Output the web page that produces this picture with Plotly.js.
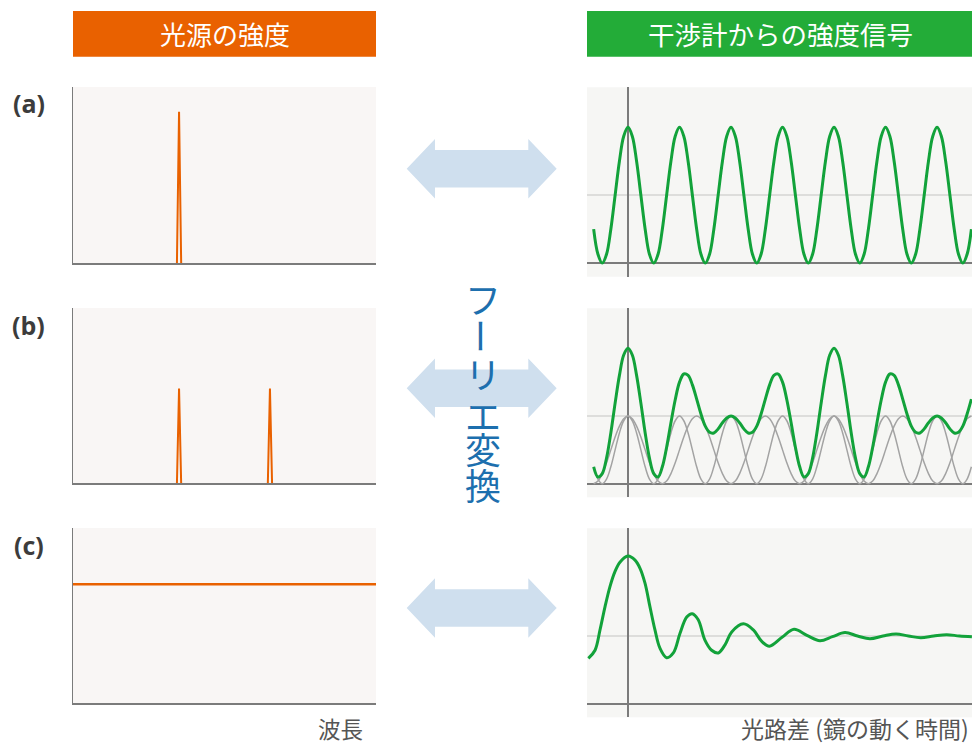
<!DOCTYPE html>
<html>
<head>
<meta charset="utf-8">
<script src="https://cdn.plot.ly/plotly-3.0.1.min.js"></script>
<style>
  html, body { margin: 0; padding: 0; background: #ffffff; }
  #chart { width: 972px; height: 745px; }
</style>
</head>
<body>
<div id="chart"></div>
<script>
// ---------- Source spectra (left column): wavelength 0..10, intensity 0..1 ----------
const lineWavelengthA = [3.5];
const lineIntensityA = [0.86];
const lineWavelengthB = [3.5, 6.5];
const lineIntensityB = [0.54, 0.54];
const continuumWavelength = [0, 10];
const continuumIntensity = [0.68, 0.68];

// ---------- Interferograms (right column) ----------
// Optical path difference sampled every 0.25 starting at -2
const opdStart = -2;
const opdStep = 0.25;

// (a) single wavelength
const signalA = [
  0.5, 0.13, 0, 0.13, 0.5, 1, 1.5, 1.87,
  2, 1.87, 1.5, 1, 0.5, 0.13, 0, 0.13, 0.5, 1, 1.5, 1.87,
  2, 1.87, 1.5, 1, 0.5, 0.13, 0, 0.13, 0.5, 1, 1.5, 1.87,
  2, 1.87, 1.5, 1, 0.5, 0.13, 0, 0.13, 0.5, 1, 1.5, 1.87,
  2, 1.87, 1.5, 1, 0.5, 0.13, 0, 0.13, 0.5, 1, 1.5, 1.87,
  2, 1.87, 1.5, 1, 0.5, 0.13, 0, 0.13, 0.5, 1, 1.5, 1.87,
  2, 1.87, 1.5, 1, 0.5, 0.13, 0, 0.13, 0.5, 1, 1.5, 1.87,
  2, 1.87, 1.5, 1, 0.5, 0.13, 0, 0.13, 0.5
];

// (b) two wavelengths: each component and their sum
const componentB1 = [
  0.25, 0.07, 0, 0.07, 0.25, 0.5, 0.75, 0.93,
  1, 0.93, 0.75, 0.5, 0.25, 0.07, 0, 0.07, 0.25, 0.5, 0.75, 0.93,
  1, 0.93, 0.75, 0.5, 0.25, 0.07, 0, 0.07, 0.25, 0.5, 0.75, 0.93,
  1, 0.93, 0.75, 0.5, 0.25, 0.07, 0, 0.07, 0.25, 0.5, 0.75, 0.93,
  1, 0.93, 0.75, 0.5, 0.25, 0.07, 0, 0.07, 0.25, 0.5, 0.75, 0.93,
  1, 0.93, 0.75, 0.5, 0.25, 0.07, 0, 0.07, 0.25, 0.5, 0.75, 0.93,
  1, 0.93, 0.75, 0.5, 0.25, 0.07, 0, 0.07, 0.25, 0.5, 0.75, 0.93,
  1, 0.93, 0.75, 0.5, 0.25, 0.07, 0, 0.07, 0.25
];
const componentB2 = [
  0, 0.04, 0.15, 0.31, 0.5, 0.69, 0.85, 0.96,
  1, 0.96, 0.85, 0.69, 0.5, 0.31, 0.15, 0.04, 0, 0.04, 0.15, 0.31, 0.5, 0.69, 0.85, 0.96,
  1, 0.96, 0.85, 0.69, 0.5, 0.31, 0.15, 0.04, 0, 0.04, 0.15, 0.31, 0.5, 0.69, 0.85, 0.96,
  1, 0.96, 0.85, 0.69, 0.5, 0.31, 0.15, 0.04, 0, 0.04, 0.15, 0.31, 0.5, 0.69, 0.85, 0.96,
  1, 0.96, 0.85, 0.69, 0.5, 0.31, 0.15, 0.04, 0, 0.04, 0.15, 0.31, 0.5, 0.69, 0.85, 0.96,
  1, 0.96, 0.85, 0.69, 0.5, 0.31, 0.15, 0.04, 0, 0.04, 0.15, 0.31, 0.5, 0.69, 0.85, 0.96,
  1
];
const signalB = [
  0.25, 0.10, 0.15, 0.38, 0.75, 1.19, 1.60, 1.90,
  2.00, 1.90, 1.60, 1.19, 0.75, 0.38, 0.15, 0.10, 0.25, 0.54, 0.90, 1.24,
  1.50, 1.62, 1.60, 1.46, 1.25, 1.03, 0.85, 0.76, 0.75, 0.81, 0.90, 0.97,
  1.00, 0.97, 0.90, 0.81, 0.75, 0.76, 0.85, 1.03, 1.25, 1.46, 1.60, 1.62,
  1.50, 1.24, 0.90, 0.54, 0.25, 0.10, 0.15, 0.38, 0.75, 1.19, 1.60, 1.90,
  2.00, 1.90, 1.60, 1.19, 0.75, 0.38, 0.15, 0.10, 0.25, 0.54, 0.90, 1.24,
  1.50, 1.62, 1.60, 1.46, 1.25, 1.03, 0.85, 0.76, 0.75, 0.81, 0.90, 0.97,
  1.00, 0.97, 0.90, 0.81, 0.75, 0.76, 0.85, 1.03, 1.25
];

// (c) continuous spectrum: decaying interferogram
const opdC = [
  -2.31, -1.92, -1.63, -1.34, -1.05, -0.76, -0.47, 0, 0.41, 0.70, 0.99, 1.28,
  1.57, 1.86, 2.25, 2.64, 3.03, 3.42, 3.74, 4.09, 4.48, 4.87, 5.26, 5.65,
  6.04, 6.72, 7.30, 7.79, 8.24, 8.97, 9.67, 10.42, 11.18, 11.91, 12.64, 13.37,
  14.09, 14.85, 15.61, 16.33, 17.05, 17.80, 18.56, 19.30, 20.03
];
const signalC = [
  0.67, 0.79, 1.09, 1.43, 1.73, 1.95, 2.09, 2.18, 2.12, 2.00, 1.78, 1.43,
  1.09, 0.82, 0.68, 0.75, 1.04, 1.28, 1.33, 1.24, 0.94, 0.79, 0.75, 0.87,
  1.06, 1.18, 1.09, 0.92, 0.85, 0.98, 1.10, 1.01, 0.93, 0.99, 1.05, 1.00,
  0.96, 1.00, 1.03, 1.00, 0.975, 1.00, 1.02, 1.00, 0.99
];

// ---------- Text ----------
const headerLeft = '光源の強度';
const headerRight = '干渉計からの強度信号';
const rowLabels = ['(a)', '(b)', '(c)'];
const xLabelLeft = '波長';
const xLabelRight = '光路差 (鏡の動く時間)';
const transformChars = ['フ', 'ー', 'リ', 'エ', '変', '換'];

// ---------- Styling ----------
const W = 972, H = 745;
const ORANGE = '#e96100';
const GREEN = '#12a23a';
const HEADER_GREEN = '#23ac38';
const GRAY_COMPONENT = '#a3a3a3';
const AXIS_GRAY = '#7b7b7b';
const LEFT_BG = '#f9f6f5';
const RIGHT_BG = '#f6f6f4';
const ARROW_BLUE = '#cfdfee';
const TEXT_BLUE = '#1d6fae';
const JP = '"Noto Sans CJK JP", "Noto Sans", sans-serif';

const fx = x => x / W;
const fy = y => 1 - y / H;

// narrow triangular peaks for emission lines
function linePeaks(wl, inten, halfWidth) {
  const x = [], y = [];
  wl.forEach((w, i) => {
    x.push(w - halfWidth, w, w + halfWidth, null);
    y.push(0, inten[i], 0, null);
  });
  return { x, y };
}

const peaksA = linePeaks(lineWavelengthA, lineIntensityA, 0.07);
const peaksB = linePeaks(lineWavelengthB, lineIntensityB, 0.07);

const traces = [
  { x: peaksA.x, y: peaksA.y, xaxis: 'x', yaxis: 'y', mode: 'lines',
    line: { color: ORANGE, width: 2 }, hoverinfo: 'skip' },
  { x: peaksB.x, y: peaksB.y, xaxis: 'x3', yaxis: 'y3', mode: 'lines',
    line: { color: ORANGE, width: 2 }, hoverinfo: 'skip' },
  { x: continuumWavelength, y: continuumIntensity, xaxis: 'x5', yaxis: 'y5', mode: 'lines',
    line: { color: ORANGE, width: 2.6 }, hoverinfo: 'skip' },

  { x0: opdStart, dx: opdStep, y: signalA, xaxis: 'x2', yaxis: 'y2', mode: 'lines',
    line: { color: GREEN, width: 3, shape: 'spline', smoothing: 1 }, hoverinfo: 'skip' },

  { x0: opdStart, dx: opdStep, y: componentB1, xaxis: 'x4', yaxis: 'y4', mode: 'lines',
    line: { color: GRAY_COMPONENT, width: 1.5, shape: 'spline', smoothing: 1 }, hoverinfo: 'skip' },
  { x0: opdStart, dx: opdStep, y: componentB2, xaxis: 'x4', yaxis: 'y4', mode: 'lines',
    line: { color: GRAY_COMPONENT, width: 1.5, shape: 'spline', smoothing: 1 }, hoverinfo: 'skip' },
  { x0: opdStart, dx: opdStep, y: signalB, xaxis: 'x4', yaxis: 'y4', mode: 'lines',
    line: { color: GREEN, width: 3, shape: 'spline', smoothing: 1 }, hoverinfo: 'skip' },

  { x: opdC, y: signalC, xaxis: 'x6', yaxis: 'y6', mode: 'lines',
    line: { color: GREEN, width: 3, shape: 'spline', smoothing: 1 }, hoverinfo: 'skip' }
];

// panel geometry in pixels
const leftCols = [73, 376];
const rightCols = [587, 972];
const leftRows = [[87, 263], [308, 483.3], [528.3, 703.3]];
const rightRows = [[87.3, 276.7], [308.3, 497.3], [528.3, 717.3]];

const layout = {
  width: W, height: H,
  margin: { l: 0, r: 0, t: 0, b: 0 },
  paper_bgcolor: '#ffffff',
  plot_bgcolor: RIGHT_BG,
  showlegend: false,
  font: { family: JP, color: '#444' },
  shapes: [],
  annotations: []
};

function leftAxes(n, row) {
  const s = n === 1 ? '' : String(n);
  layout['xaxis' + s] = {
    domain: [fx(leftCols[0]), fx(leftCols[1])], range: [0, 10],
    anchor: 'y' + s,
    showline: true, linecolor: AXIS_GRAY, linewidth: 2,
    showgrid: false, zeroline: false, showticklabels: false, ticks: '', fixedrange: true
  };
  layout['yaxis' + s] = {
    domain: [fy(row[1]), fy(row[0])], range: [0, 1],
    anchor: 'x' + s,
    showline: true, linecolor: AXIS_GRAY, linewidth: 1.5,
    showgrid: false, zeroline: false, showticklabels: false, ticks: '', fixedrange: true
  };
  layout.shapes.push({
    type: 'rect', xref: 'x' + s + ' domain', yref: 'y' + s + ' domain',
    x0: 0, x1: 1, y0: 0, y1: 1, fillcolor: LEFT_BG, line: { width: 0 }, layer: 'below'
  });
}

function rightAxes(n, row) {
  layout['xaxis' + n] = {
    domain: [fx(rightCols[0]), fx(rightCols[1])], range: [-2.388, 20.035],
    anchor: 'y' + n,
    showline: false, showgrid: false,
    zeroline: true, zerolinecolor: AXIS_GRAY, zerolinewidth: 2,
    showticklabels: false, ticks: '', fixedrange: true
  };
  layout['yaxis' + n] = {
    domain: [fy(row[1]), fy(row[0])], range: [-0.2, 2.59],
    anchor: 'x' + n,
    showline: false, tickvals: [1], showgrid: true, gridcolor: '#dddddb', gridwidth: 1.5,
    zeroline: true, zerolinecolor: AXIS_GRAY, zerolinewidth: 2,
    showticklabels: false, ticks: '', fixedrange: true
  };
}

leftAxes(1, leftRows[0]);
rightAxes(2, rightRows[0]);
leftAxes(3, leftRows[1]);
rightAxes(4, rightRows[1]);
leftAxes(5, leftRows[2]);
rightAxes(6, rightRows[2]);

// header bars
layout.shapes.push(
  { type: 'rect', xref: 'paper', yref: 'paper', x0: fx(73), x1: fx(376), y0: fy(56.7), y1: fy(11),
    fillcolor: ORANGE, line: { width: 0 } },
  { type: 'rect', xref: 'paper', yref: 'paper', x0: fx(587), x1: fx(972), y0: fy(56.7), y1: fy(11),
    fillcolor: HEADER_GREEN, line: { width: 0 } }
);
layout.annotations.push(
  { xref: 'paper', yref: 'paper', x: fx(224.5), y: fy(34), text: headerLeft, showarrow: false,
    xanchor: 'center', yanchor: 'middle', font: { family: JP, size: 26, color: '#ffffff' } },
  { xref: 'paper', yref: 'paper', x: fx(780.5), y: fy(34), text: headerRight, showarrow: false,
    xanchor: 'center', yanchor: 'middle', font: { family: JP, size: 26.5, color: '#ffffff' } }
);

// row labels
const labelY = [103, 325, 545];
rowLabels.forEach((t, i) => {
  layout.annotations.push({
    xref: 'paper', yref: 'paper', x: fx(28.5), y: fy(labelY[i]), text: '<b>' + t + '</b>',
    showarrow: false, xanchor: 'center', yanchor: 'middle',
    font: { family: '"Open Sans", sans-serif', size: 25, color: '#3c3c3c' }
  });
});

// axis captions
layout.annotations.push(
  { xref: 'paper', yref: 'paper', x: fx(340), y: fy(727.5), text: xLabelLeft, showarrow: false,
    xanchor: 'center', yanchor: 'middle', font: { family: JP, size: 22.5, color: '#555555' } },
  { xref: 'paper', yref: 'paper', x: fx(970.5), y: fy(727.5), text: xLabelRight, showarrow: false,
    xanchor: 'right', yanchor: 'middle', font: { family: JP, size: 23, color: '#555555' } }
);

// double-headed arrows between the columns
function arrowPath(cy) {
  const tipL = 406.7, baseL = 435, baseR = 528.3, tipR = 556.7, hh = 29.7, sh = 18.8;
  const pts = [
    [tipL, cy], [baseL, cy - hh], [baseL, cy - sh], [baseR, cy - sh], [baseR, cy - hh],
    [tipR, cy], [baseR, cy + hh], [baseR, cy + sh], [baseL, cy + sh], [baseL, cy + hh]
  ];
  return 'M' + pts.map(p => fx(p[0]).toFixed(5) + ',' + fy(p[1]).toFixed(5)).join(' L') + ' Z';
}
[168.7, 388.3, 608].forEach(cy => {
  layout.shapes.push({ type: 'path', xref: 'paper', yref: 'paper', path: arrowPath(cy),
    fillcolor: ARROW_BLUE, line: { width: 0 }, layer: 'above' });
});

// vertical caption "フーリエ変換", one upright glyph per line (the long-vowel mark turned vertical)
const charY = [297.5, 335.5, 373, 414.5, 447.5, 483.5];
transformChars.forEach((c, i) => {
  layout.annotations.push({
    xref: 'paper', yref: 'paper', x: fx(482.5), y: fy(charY[i]), text: c, showarrow: false,
    xanchor: 'center', yanchor: 'middle', textangle: c === 'ー' ? 90 : 0,
    font: { family: JP, size: 36, color: TEXT_BLUE }
  });
});

Plotly.newPlot('chart', traces, layout, { staticPlot: true, displayModeBar: false });
</script>
</body>
</html>
